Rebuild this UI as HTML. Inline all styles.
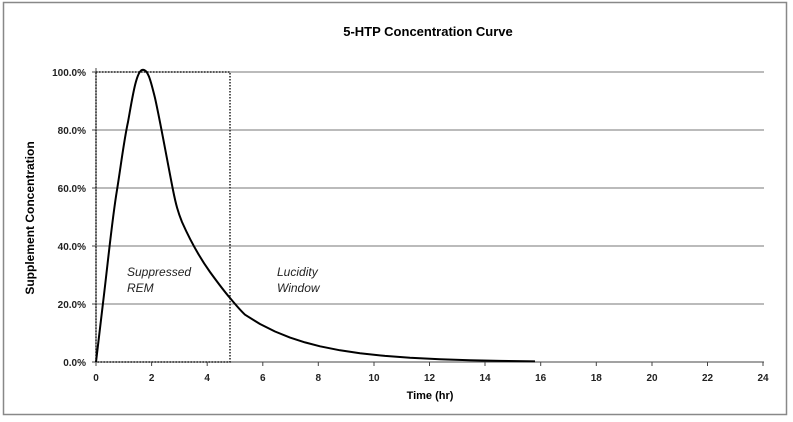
<!DOCTYPE html><html><head><style>body{margin:0;background:#fff}</style></head><body>
<svg width="793" height="417" xmlns="http://www.w3.org/2000/svg" font-family="Liberation Sans, sans-serif">
<rect x="0" y="0" width="793" height="417" fill="#fff"/>
<rect x="3.5" y="2.5" width="783" height="412" fill="none" stroke="#888" stroke-width="1.5"/>
<text x="428" y="36" font-size="13" font-weight="bold" text-anchor="middle">5-HTP Concentration Curve</text>
<g stroke="#777" stroke-width="1">
<line x1="96" y1="72" x2="764" y2="72"/><line x1="96" y1="130" x2="764" y2="130"/><line x1="96" y1="188" x2="764" y2="188"/><line x1="96" y1="246" x2="764" y2="246"/><line x1="96" y1="304" x2="764" y2="304"/>
</g>
<line x1="96" y1="362" x2="764" y2="362" stroke="#444" stroke-width="1"/>
<line x1="96" y1="68" x2="96" y2="362" stroke="#444"/>
<g stroke="#444">
<line x1="92" y1="72" x2="96" y2="72"/><line x1="92" y1="130" x2="96" y2="130"/><line x1="92" y1="188" x2="96" y2="188"/><line x1="92" y1="246" x2="96" y2="246"/><line x1="92" y1="304" x2="96" y2="304"/><line x1="92" y1="362" x2="96" y2="362"/>
<line x1="96" y1="362" x2="96" y2="366"/><line x1="151.6" y1="362" x2="151.6" y2="366"/><line x1="207.2" y1="362" x2="207.2" y2="366"/><line x1="262.8" y1="362" x2="262.8" y2="366"/><line x1="318.3" y1="362" x2="318.3" y2="366"/><line x1="374" y1="362" x2="374" y2="366"/><line x1="429.5" y1="362" x2="429.5" y2="366"/><line x1="485" y1="362" x2="485" y2="366"/><line x1="540.7" y1="362" x2="540.7" y2="366"/><line x1="596.3" y1="362" x2="596.3" y2="366"/><line x1="652" y1="362" x2="652" y2="366"/><line x1="707.5" y1="362" x2="707.5" y2="366"/><line x1="763" y1="362" x2="763" y2="366"/>
</g>
<g font-size="10" font-weight="bold" text-anchor="end" fill="#222">
<text x="86" y="76">100.0%</text><text x="86" y="134">80.0%</text><text x="86" y="192">60.0%</text><text x="86" y="250">40.0%</text><text x="86" y="308">20.0%</text><text x="86" y="366">0.0%</text>
</g>
<g font-size="10" font-weight="bold" text-anchor="middle" fill="#222">
<text x="96" y="381">0</text><text x="151.6" y="381">2</text><text x="207.2" y="381">4</text><text x="262.8" y="381">6</text><text x="318.3" y="381">8</text><text x="374" y="381">10</text><text x="429.5" y="381">12</text><text x="485" y="381">14</text><text x="540.7" y="381">16</text><text x="596.3" y="381">18</text><text x="652" y="381">20</text><text x="707.5" y="381">22</text><text x="763" y="381">24</text>
</g>
<text x="34" y="218" font-size="12" font-weight="bold" text-anchor="middle" transform="rotate(-90 34 218)">Supplement Concentration</text>
<text x="430" y="399" font-size="11" font-weight="bold" text-anchor="middle">Time (hr)</text>
<rect x="96" y="72" width="134" height="290" fill="none" stroke="#222" stroke-width="1.5" stroke-dasharray="1.5,1.5"/>
<text x="127" y="276" font-size="12" font-style="italic" fill="#222">Suppressed</text>
<text x="127" y="292" font-size="12" font-style="italic" fill="#222">REM</text>
<text x="277" y="276" font-size="12" font-style="italic" fill="#222">Lucidity</text>
<text x="277" y="292" font-size="12" font-style="italic" fill="#222">Window</text>
<path fill="none" stroke="#000" stroke-width="2" stroke-linejoin="round" d="M96,362 L103,303 C108,262 112,220 117,190 C121,165 124,140 128,122 C132,100 136,72 142,70 C148,68 151,82 155,98 C160,120 168,165 173,190 C176,205 178,212 182,222 C190,240 200,258 210,272 C218,283 224,291 230,298 C235,304 240,310 245,314.7 L260,324 L275,331.5 L290,337.6 L305,342.4 L320,346.3 L340,350.3 L360,353.3 L385,355.9 L410,357.8 L440,359.3 L470,360.3 L500,360.9 L535,361.4"/>
</svg></body></html>
